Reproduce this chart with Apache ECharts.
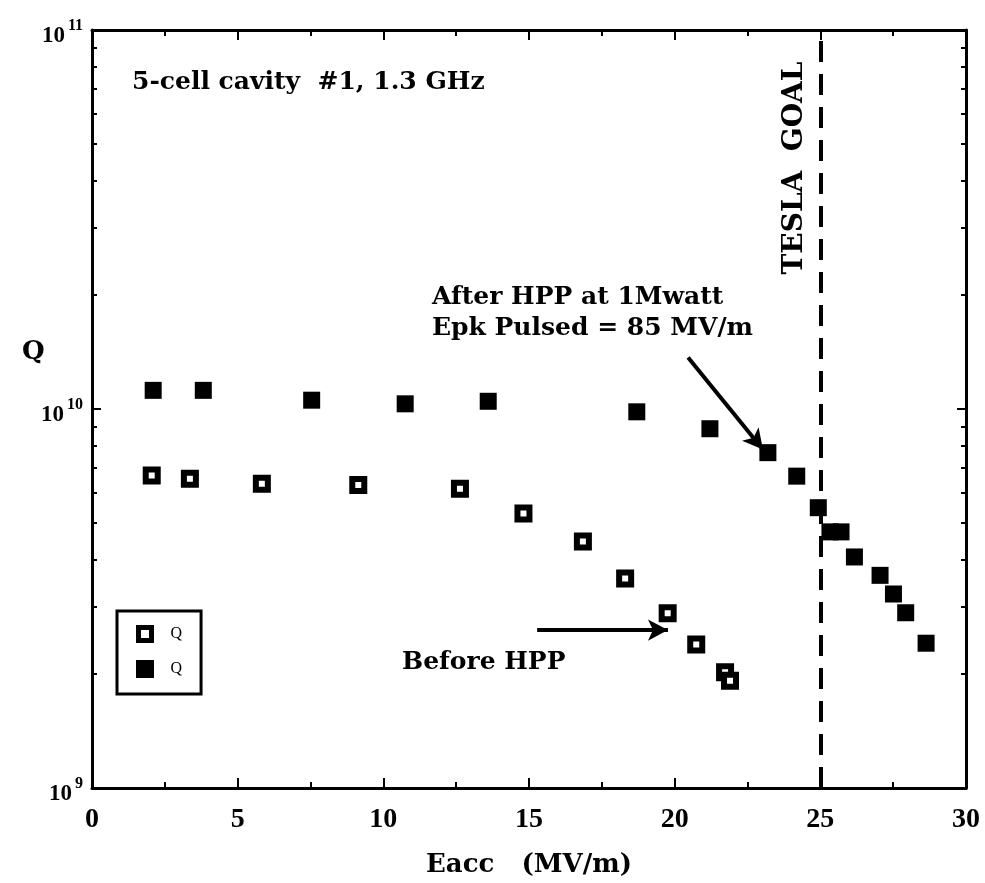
<!DOCTYPE html>
<html>
<head>
<meta charset="utf-8">
<title>5-cell cavity #1, 1.3 GHz</title>
<script src="https://cdn.jsdelivr.net/npm/echarts@6.0.0/dist/echarts.min.js"></script>
<style>
  html, body { margin: 0; padding: 0; background: #fff; }
  #main { width: 985px; height: 883px; }
</style>
</head>
<body>
<div id="main"></div>
<script>
// Eacc (MV/m) and Q before high power processing (open squares)
var eaccBefore = [2.05, 3.36, 5.83, 9.14, 12.63, 14.81, 16.85, 18.30, 19.76, 20.74, 21.73, 21.90];
var qBefore = [6.68e9, 6.55e9, 6.35e9, 6.30e9, 6.16e9, 5.30e9, 4.47e9, 3.57e9, 2.89e9, 2.39e9, 2.02e9, 1.92e9];

// after HPP at 1 Mwatt (filled squares)
var eaccAfter = [2.10, 3.82, 7.54, 10.75, 13.60, 18.70, 21.21, 23.20, 24.19, 24.93, 25.33, 25.71, 26.17, 27.05, 27.51, 27.93, 28.63];
var qAfter = [1.12e10, 1.12e10, 1.055e10, 1.032e10, 1.048e10, 9.83e9, 8.87e9, 7.67e9, 6.65e9, 5.49e9, 4.74e9, 4.74e9, 4.07e9, 3.64e9, 3.25e9, 2.90e9, 2.41e9];

var teslaGoal = 25;
var arrowAfter = [[20.46, 1.367e10], [23.03, 7.82e9]];
var arrowBefore = [[15.28, 2.61e9], [19.77, 2.61e9]];

var decades = [9, 10];
var minorMult = [2, 3, 4, 5, 6, 7, 8, 9];

function pairs(xs, ys) {
  var out = [];
  for (var i = 0; i < xs.length; i++) out.push([xs[i], ys[i]]);
  return out;
}

var minorLog = [];
for (var d = 0; d < decades.length; d++) {
  for (var m = 0; m < minorMult.length; m++) {
    minorLog.push(decades[d] + Math.log10(minorMult[m]));
  }
}

var serifBold = "'DejaVu Serif'";
var tickFont = "'Liberation Serif'";

var myChart = echarts.init(document.getElementById('main'));

var baseX = {
  type: 'value',
  min: 0,
  max: 30,
  interval: 5,
  axisLine: { lineStyle: { color: '#000', width: 3 } },
  axisTick: { inside: true, length: 10, lineStyle: { color: '#000', width: 2 } },
  minorTick: { show: true, splitNumber: 2, length: 6, lineStyle: { color: '#000', width: 2 } },
  splitLine: { show: false }
};

var logY = {
  type: 'log',
  logBase: 10,
  min: 1e9,
  max: 1e11,
  axisLine: { lineStyle: { color: '#000', width: 3 } },
  axisTick: { inside: true, length: 9, lineStyle: { color: '#000', width: 2 } },
  splitLine: { show: false }
};

var minorY = {
  type: 'value',
  min: 9,
  max: 11,
  interval: 1,
  axisLine: { show: false },
  axisTick: { inside: true, length: 5, customValues: minorLog, lineStyle: { color: '#000', width: 2 } },
  axisLabel: { show: false },
  splitLine: { show: false }
};

var option = {
  backgroundColor: '#fff',
  animation: false,
  grid: { left: 92, right: 19, top: 30, bottom: 94, show: false },
  xAxis: [
    Object.assign({}, baseX, {
      position: 'bottom',
      name: 'Eacc   (MV/m)',
      nameLocation: 'middle',
      nameGap: 64,
      nameTextStyle: { fontFamily: serifBold, fontWeight: 'bold', fontSize: 26, color: '#000' },
      axisLabel: { margin: 18, fontFamily: tickFont, fontWeight: 'bold', fontSize: 28, color: '#000' }
    }),
    Object.assign({}, baseX, { position: 'top', axisLabel: { show: false } })
  ],
  yAxis: [
    Object.assign({}, logY, {
      position: 'left',
      axisLabel: {
        margin: 9,
        formatter: function (v) {
          return '{b|10}{s|' + Math.round(Math.log10(v)) + '}';
        },
        rich: {
          b: { fontFamily: tickFont, fontWeight: 'bold', fontSize: 23, color: '#000', padding: [12, 3, 0, 0] },
          s: { fontFamily: tickFont, fontWeight: 'bold', fontSize: 16, color: '#000', padding: [0, 0, 9, 0] }
        }
      }
    }),
    Object.assign({}, minorY, { position: 'left' }),
    Object.assign({}, logY, { position: 'right', axisLabel: { show: false } }),
    Object.assign({}, minorY, { position: 'right' })
  ],
  legend: {
    orient: 'vertical',
    left: 117,
    top: 611,
    padding: [14, 15, 16, 19],
    itemGap: 17,
    itemWidth: 13,
    itemHeight: 13,
    borderColor: '#000',
    borderWidth: 3,
    textStyle: { fontFamily: tickFont, fontSize: 16, color: '#000', padding: [0, 0, 0, 14] },
    data: [
      { name: 'Q', icon: 'rect', itemStyle: { color: '#fff', borderColor: '#000', borderWidth: 5 } },
      { name: 'Q ', icon: 'rect', itemStyle: { color: '#000', borderColor: '#000', borderWidth: 5 } }
    ]
  },
  series: [
    {
      name: 'Q',
      type: 'scatter',
      xAxisIndex: 0,
      yAxisIndex: 0,
      symbol: 'rect',
      symbolSize: 12,
      itemStyle: { color: '#fff', borderColor: '#000', borderWidth: 6, opacity: 1 },
      data: pairs(eaccBefore, qBefore),
      markLine: {
        silent: true,
        symbol: ['none', 'arrow'],
        symbolSize: [16, 20],
        label: { show: false },
        lineStyle: { color: '#000', width: 4, type: 'solid' },
        data: [
          [{ coord: arrowBefore[0] }, { coord: arrowBefore[1] }]
        ]
      }
    },
    {
      name: 'Q ',
      type: 'scatter',
      xAxisIndex: 0,
      yAxisIndex: 0,
      symbol: 'rect',
      symbolSize: 17,
      itemStyle: { color: '#000', opacity: 1 },
      data: pairs(eaccAfter, qAfter),
      markLine: {
        silent: true,
        label: { show: false },
        data: [
          [
            { coord: arrowAfter[0], symbol: 'none', lineStyle: { color: '#000', width: 4, type: 'solid' } },
            { coord: arrowAfter[1], symbol: 'arrow', symbolSize: [16, 20] }
          ],
          [
            { xAxis: teslaGoal, yAxis: 1e9, symbol: 'none', lineStyle: { color: '#000', width: 4, type: [21, 12] } },
            { xAxis: teslaGoal, yAxis: 1e11, symbol: 'none' }
          ]
        ]
      }
    }
  ],
  graphic: [
    { type: 'text', x: 132, y: 82, style: { text: '5-cell cavity  #1, 1.3 GHz', font: 'bold 25px ' + serifBold, fill: '#000', textVerticalAlign: 'middle' } },
    { type: 'text', x: 22, y: 352, style: { text: 'Q', font: 'bold 26px ' + serifBold, fill: '#000', textVerticalAlign: 'middle' } },
    { type: 'text', x: 432, y: 297, style: { text: 'After HPP at 1Mwatt', font: 'bold 25px ' + serifBold, fill: '#000', textVerticalAlign: 'middle' } },
    { type: 'text', x: 432, y: 328, style: { text: 'Epk Pulsed = 85 MV/m', font: 'bold 25px ' + serifBold, fill: '#000', textVerticalAlign: 'middle' } },
    { type: 'text', x: 402, y: 662, style: { text: 'Before HPP', font: 'bold 25px ' + serifBold, fill: '#000', textVerticalAlign: 'middle' } },
    { type: 'text', x: 795, y: 168, rotation: Math.PI / 2, style: { text: 'TESLA  GOAL', font: 'bold 28px ' + serifBold, fill: '#000', textAlign: 'center', textVerticalAlign: 'middle' } }
  ]
};

myChart.setOption(option);
window.addEventListener('resize', function () {
  myChart.resize();
});
</script>
</body>
</html>
